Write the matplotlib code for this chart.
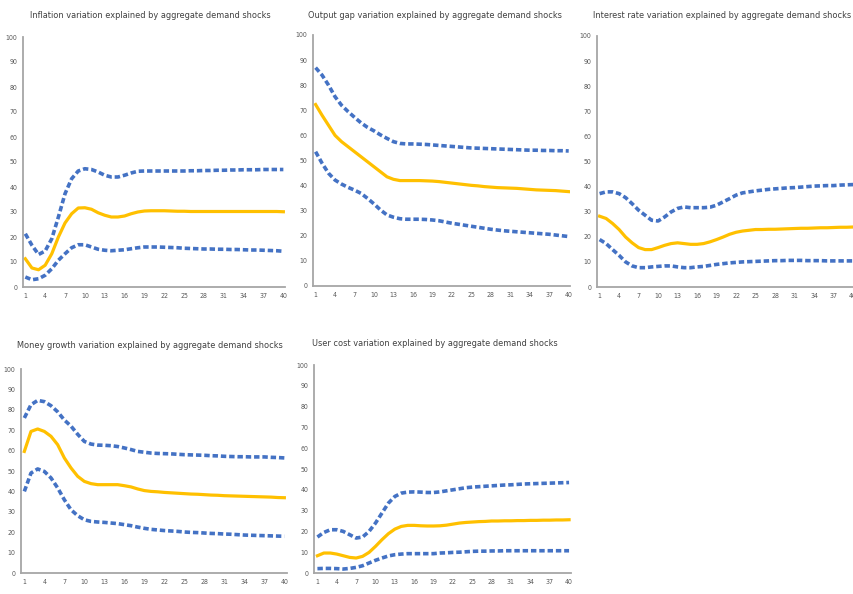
import matplotlib.pyplot as plt

plt.rcParams['font.family'] = ['DejaVu Sans']
plt.rcParams['font.stretch'] = 'condensed'

horizon = list(range(1, 41))
x_ticks = list(range(1, 41, 3))
y_ticks = list(range(0, 101, 10))

inflation_upper = [21.3, 16.7, 13.0, 14.4, 19.3, 28.0, 37.3, 43.3, 46.4, 47.3, 47.0, 46.0, 44.7, 44.0, 44.0, 44.7, 45.6, 46.3, 46.4, 46.4,
                   46.4, 46.4, 46.4, 46.4, 46.4, 46.5, 46.5, 46.6, 46.6, 46.7, 46.7, 46.8, 46.8, 46.9, 46.9, 46.9, 47.0, 47.0, 47.0, 47.0]
inflation_mean = [11.3, 7.6, 6.9, 8.7, 13.3, 20.0, 25.6, 29.3, 31.6, 31.7, 31.1, 29.7, 28.7, 28.0, 28.0, 28.4, 29.3, 30.0, 30.4, 30.5,
                  30.5, 30.5, 30.4, 30.3, 30.3, 30.2, 30.2, 30.2, 30.2, 30.2, 30.2, 30.2, 30.2, 30.2, 30.2, 30.2, 30.2, 30.2, 30.2, 30.1]
inflation_lower = [4.0, 2.9, 3.3, 4.7, 7.3, 10.7, 13.3, 15.7, 16.9, 16.9, 16.0, 15.1, 14.7, 14.5, 14.7, 14.9, 15.3, 15.7, 16.0, 16.0,
                   16.0, 15.9, 15.8, 15.7, 15.5, 15.4, 15.3, 15.2, 15.2, 15.1, 15.1, 15.0, 15.0, 14.9, 14.8, 14.8, 14.7, 14.6, 14.5, 14.3]

outgap_upper = [87.0, 84.0, 80.0, 75.4, 72.0, 69.5, 67.2, 65.0, 63.2, 61.8, 60.2, 58.8, 57.5, 56.8, 56.6, 56.6, 56.5, 56.4, 56.2, 56.0,
                55.8, 55.6, 55.4, 55.2, 55.0, 54.9, 54.8, 54.7, 54.6, 54.5, 54.4, 54.3, 54.2, 54.1, 54.1, 54.0, 54.0, 53.9, 53.9, 53.8]
outgap_mean = [72.3, 68.0, 64.0, 60.0, 57.5, 55.5, 53.5, 51.5, 49.5, 47.5, 45.5, 43.5, 42.5, 42.0, 42.0, 42.0, 42.0, 41.9, 41.8, 41.6,
               41.3, 41.0, 40.7, 40.4, 40.1, 39.9, 39.6, 39.4, 39.2, 39.1, 39.0, 38.9, 38.7, 38.5, 38.3, 38.2, 38.1, 38.0, 37.8, 37.6]
outgap_lower = [53.5, 48.9, 44.9, 42.2, 40.6, 39.3, 38.2, 36.9, 34.9, 32.7, 30.3, 28.3, 27.4, 26.8, 26.6, 26.6, 26.6, 26.5, 26.3, 26.0,
                25.5, 25.0, 24.6, 24.2, 23.8, 23.4, 23.0, 22.6, 22.3, 22.0, 21.8, 21.6, 21.4, 21.2, 21.0, 20.8, 20.6, 20.3, 20.0, 19.7]

interest_upper = [37.2, 37.9, 37.9, 37.2, 35.6, 33.2, 30.6, 28.6, 26.6, 26.3, 27.9, 29.9, 31.3, 31.9, 31.6, 31.6, 31.6, 31.8, 32.6, 33.9,
                  35.2, 36.6, 37.5, 37.9, 38.3, 38.6, 38.9, 39.1, 39.3, 39.5, 39.6, 39.8, 40.0, 40.2, 40.3, 40.4, 40.4, 40.6, 40.7, 40.8]
interest_mean = [28.2, 27.3, 25.3, 22.9, 19.9, 17.6, 15.7, 14.9, 14.9, 15.7, 16.6, 17.3, 17.6, 17.3, 17.0, 17.0, 17.3, 18.0, 18.9, 19.9,
                 21.0, 21.8, 22.3, 22.6, 22.9, 22.9, 23.0, 23.0, 23.1, 23.2, 23.3, 23.4, 23.4, 23.5, 23.6, 23.6, 23.7, 23.8, 23.8, 23.9]
interest_lower = [18.9, 17.3, 14.9, 12.6, 10.0, 8.4, 7.7, 7.7, 8.0, 8.2, 8.4, 8.4, 8.0, 7.7, 7.7, 8.0, 8.2, 8.6, 9.0, 9.3,
                  9.6, 9.8, 10.0, 10.1, 10.2, 10.3, 10.4, 10.5, 10.5, 10.6, 10.6, 10.6, 10.5, 10.5, 10.5, 10.4, 10.4, 10.4, 10.4, 10.4]

money_upper = [76.0, 82.5, 84.6, 84.0, 82.0, 79.0, 75.0, 72.0, 68.0, 64.5, 63.2, 62.7, 62.6, 62.4, 62.0, 61.3, 60.5, 59.6, 59.2, 58.8,
               58.6, 58.5, 58.4, 58.2, 58.0, 57.9, 57.8, 57.7, 57.5, 57.4, 57.2, 57.1, 57.0, 57.0, 56.9, 56.9, 56.9, 56.7, 56.6, 56.4]
money_mean = [59.6, 69.4, 70.6, 69.4, 67.0, 62.9, 56.4, 51.5, 47.4, 44.9, 43.8, 43.3, 43.3, 43.3, 43.3, 42.8, 42.2, 41.2, 40.4, 40.0,
              39.8, 39.5, 39.3, 39.1, 38.9, 38.7, 38.6, 38.4, 38.2, 38.1, 37.9, 37.8, 37.7, 37.6, 37.5, 37.4, 37.3, 37.2, 37.0, 36.9]
money_lower = [40.0, 49.0, 51.0, 49.8, 46.6, 41.7, 35.9, 31.0, 28.1, 26.1, 25.3, 25.0, 24.8, 24.5, 24.2, 23.7, 23.2, 22.5, 21.9, 21.4,
               21.1, 20.8, 20.6, 20.4, 20.1, 19.9, 19.8, 19.6, 19.4, 19.3, 19.1, 19.0, 18.8, 18.6, 18.5, 18.4, 18.3, 18.2, 18.1, 18.0]

usercost_upper = [17.3, 19.5, 20.8, 20.8, 20.0, 18.4, 16.8, 17.3, 20.0, 24.0, 28.8, 33.6, 36.8, 38.4, 38.9, 39.0, 38.9, 38.7, 38.7, 39.0,
                  39.5, 40.0, 40.5, 41.0, 41.3, 41.5, 41.7, 41.9, 42.1, 42.3, 42.4, 42.6, 42.8, 42.9, 43.0, 43.1, 43.2, 43.3, 43.4, 43.5]
usercost_mean = [8.3, 9.6, 9.6, 9.1, 8.3, 7.5, 7.2, 8.0, 9.9, 12.8, 16.0, 18.9, 21.1, 22.4, 22.9, 22.9, 22.7, 22.6, 22.6, 22.7,
                 23.0, 23.5, 24.0, 24.3, 24.5, 24.7, 24.8, 25.0, 25.0, 25.1, 25.1, 25.2, 25.2, 25.3, 25.3, 25.4, 25.4, 25.5, 25.5, 25.6]
usercost_lower = [2.1, 2.2, 2.2, 2.1, 1.9, 2.2, 2.7, 3.5, 4.8, 6.1, 7.2, 8.2, 8.8, 9.1, 9.3, 9.3, 9.3, 9.3, 9.3, 9.6,
                  9.7, 9.9, 10.0, 10.2, 10.4, 10.5, 10.5, 10.6, 10.6, 10.7, 10.7, 10.7, 10.7, 10.7, 10.7, 10.7, 10.7, 10.7, 10.7, 10.7]

titles = [
    "Inflation variation explained by aggregate demand shocks",
    "Output gap variation explained by aggregate demand shocks",
    "Interest rate variation explained by aggregate demand shocks",
    "Money growth variation explained by aggregate demand shocks",
    "User cost variation explained by aggregate demand shocks",
]

GOLD = "#FFC000"
BLUE = "#4472C4"
GREY = "#595959"


def draw_panel(fig, rect, xlim, title, title_xy, upper, mean, lower):
    ax = fig.add_axes(rect)
    ax.plot(horizon, upper, color=BLUE, lw=2.6, ls=(0, (1.5, 0.8)))
    ax.plot(horizon, lower, color=BLUE, lw=2.6, ls=(0, (1.5, 0.8)))
    ax.plot(horizon, mean, color=GOLD, lw=2.3, solid_joinstyle='round')
    ax.set_xlim(*xlim)
    ax.set_ylim(0, 100)
    ax.set_xticks(x_ticks)
    ax.set_yticks(y_ticks)
    ax.tick_params(length=0, labelsize=5, labelcolor=GREY, pad=4)
    for side in ("top", "right"):
        ax.spines[side].set_visible(False)
    for side in ("left", "bottom"):
        ax.spines[side].set_color("#A6A6A6")
        ax.spines[side].set_linewidth(1.3)
    fig.text(title_xy[0] / 854, 1 - title_xy[1] / 594, title, ha='center', va='center',
             fontsize=6.6, color="#404040")
    return ax


def main():
    fig = plt.figure(figsize=(8.54, 5.94), dpi=100)
    W, H = 854, 594

    def rect(left, right, top, bottom):
        return [left / W, 1 - bottom / H, (right - left) / W, (bottom - top) / H]

    draw_panel(fig, rect(23, 285, 37, 287), (0.65, 40.25), titles[0], (150, 15),
               inflation_upper, inflation_mean, inflation_lower)
    draw_panel(fig, rect(313, 570, 35, 286), (0.6, 40.2), titles[1], (435, 15),
               outgap_upper, outgap_mean, outgap_lower)
    draw_panel(fig, rect(597, 855, 36, 287), (0.6, 40.3), titles[2], (722, 15),
               interest_upper, interest_mean, interest_lower)
    draw_panel(fig, rect(21, 287, 369, 573), (0.5, 40.4), titles[3], (150, 345),
               money_upper, money_mean, money_lower)
    draw_panel(fig, rect(314, 571, 365, 573), (0.47, 40.3), titles[4], (435, 343),
               usercost_upper, usercost_mean, usercost_lower)

    fig.savefig("out.png", dpi=100)


if __name__ == "__main__":
    main()
